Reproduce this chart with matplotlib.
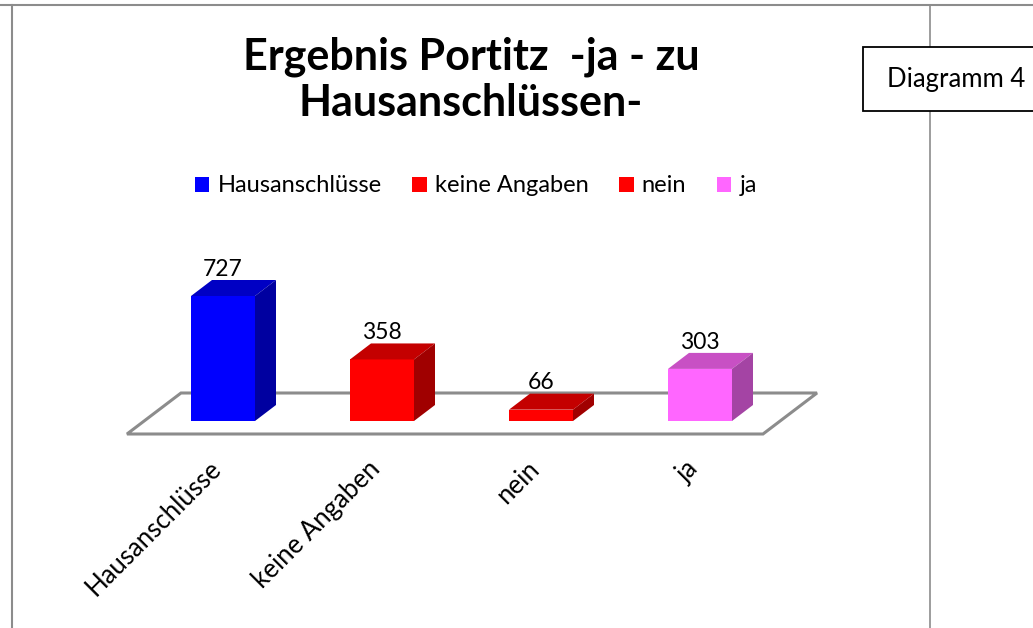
import matplotlib
matplotlib.use("Agg")
import matplotlib.pyplot as plt
import matplotlib.transforms as mtransforms
from matplotlib.patches import Polygon, Rectangle
from matplotlib.lines import Line2D

plt.rcParams['font.family'] = ['Lato', 'DejaVu Sans']

categories = ["Hausanschlüsse", "keine Angaben", "nein", "ja"]
values = [727, 358, 66, 303]
front_colors = ["#0000FF", "#FF0000", "#FF0000", "#FF66FF"]
top_colors = ["#0000C4", "#C40000", "#C40000", "#C850C4"]
side_colors = ["#0000A0", "#A00000", "#A00000", "#A444A4"]
title = "Ergebnis Portitz  -ja - zu\nHausanschlüssen-"

W, H = 1033, 628
fig = plt.figure(figsize=(W / 100, H / 100), dpi=100)

# geometry (pixels) -> axes placement
px_per_cat = 159.0
px_per_val = 125.0 / 727.0
x0_px, base_px = 223.0, 421.0
xlim = (-0.7, 3.9)
ylim = (-150, 950)
left = x0_px + xlim[0] * px_per_cat
width = (xlim[1] - xlim[0]) * px_per_cat
top = base_px - ylim[1] * px_per_val
height = (ylim[1] - ylim[0]) * px_per_val
ax = fig.add_axes([left / W, 1 - (top + height) / H, width / W, height / H])
ax.set_xlim(*xlim)
ax.set_ylim(*ylim)
for s in ax.spines.values():
    s.set_visible(False)
ax.set_yticks([])

bw = 64 / px_per_cat
dx = 21 / px_per_cat
dy = 16 / px_per_val

# floor
fx0, fx1 = (127 - x0_px) / px_per_cat, (763 - x0_px) / px_per_cat
fy0 = (base_px - 434) / px_per_val
fdx = 54 / px_per_cat
fdy = 41 / px_per_val
floor = Polygon([(fx0, fy0), (fx1, fy0), (fx1 + fdx, fy0 + fdy), (fx0 + fdx, fy0 + fdy)],
                closed=True, facecolor="white", edgecolor="#8c8c8c", linewidth=2.2,
                zorder=1, clip_on=False)
ax.add_patch(floor)

xs = list(range(len(categories)))
handles = []
for i, (x, v) in enumerate(zip(xs, values)):
    b = ax.bar(x, v, width=bw, color=front_colors[i], zorder=3, label=categories[i])
    handles.append(b)
    xl, xr = x - bw / 2, x + bw / 2
    ax.add_patch(Polygon([(xl, v), (xr, v), (xr + dx, v + dy), (xl + dx, v + dy)],
                         closed=True, facecolor=top_colors[i], edgecolor="none",
                         zorder=3, clip_on=False))
    ax.add_patch(Polygon([(xr, 0), (xr + dx, dy), (xr + dx, v + dy), (xr, v)],
                         closed=True, facecolor=side_colors[i], edgecolor="none",
                         zorder=3, clip_on=False))
    ax.text(x, v + dy + 2, str(v), ha="center", va="bottom", fontsize=16.5, zorder=4)

ax.set_xticks(xs)
ax.set_xticklabels(categories, rotation=45, ha="right", va="center",
                   rotation_mode="anchor", fontsize=18.5)
ax.tick_params(axis="x", length=0, pad=13)
shift = mtransforms.ScaledTranslation(-6 / 100, 0, fig.dpi_scale_trans)
for lbl in ax.get_xticklabels():
    lbl.set_transform(lbl.get_transform() + shift)

fig.text(471 / W, 1 - 80 / H, title, ha="center", va="center", fontsize=31,
         fontweight="bold", linespacing=1.17)

fig.legend(handles=handles, labels=categories, loc="center", ncol=4,
           bbox_to_anchor=(476 / W, 1 - 186 / H), frameon=False, fontsize=17,
           handlelength=0.6, handleheight=0.6, handletextpad=0.35, columnspacing=1.3)

# frame lines
fig.add_artist(Line2D([0, 1], [1 - 5 / H, 1 - 5 / H], color="#8c8c8c", lw=1.5))
fig.add_artist(Line2D([12 / W, 12 / W], [0, 1 - 5 / H], color="#8c8c8c", lw=1.5))
fig.add_artist(Line2D([930 / W, 930 / W], [0, 1 - 5 / H], color="#8c8c8c", lw=1.2))

fig.add_artist(Rectangle((863 / W, 1 - 111 / H), 180 / W, 64 / H, facecolor="white",
                         edgecolor="black", lw=1.3, transform=fig.transFigure, zorder=5))
fig.text(887 / W, 1 - 79 / H, "Diagramm 4", ha="left", va="center", fontsize=18.5, zorder=6)

fig.savefig("out.png", dpi=100)
